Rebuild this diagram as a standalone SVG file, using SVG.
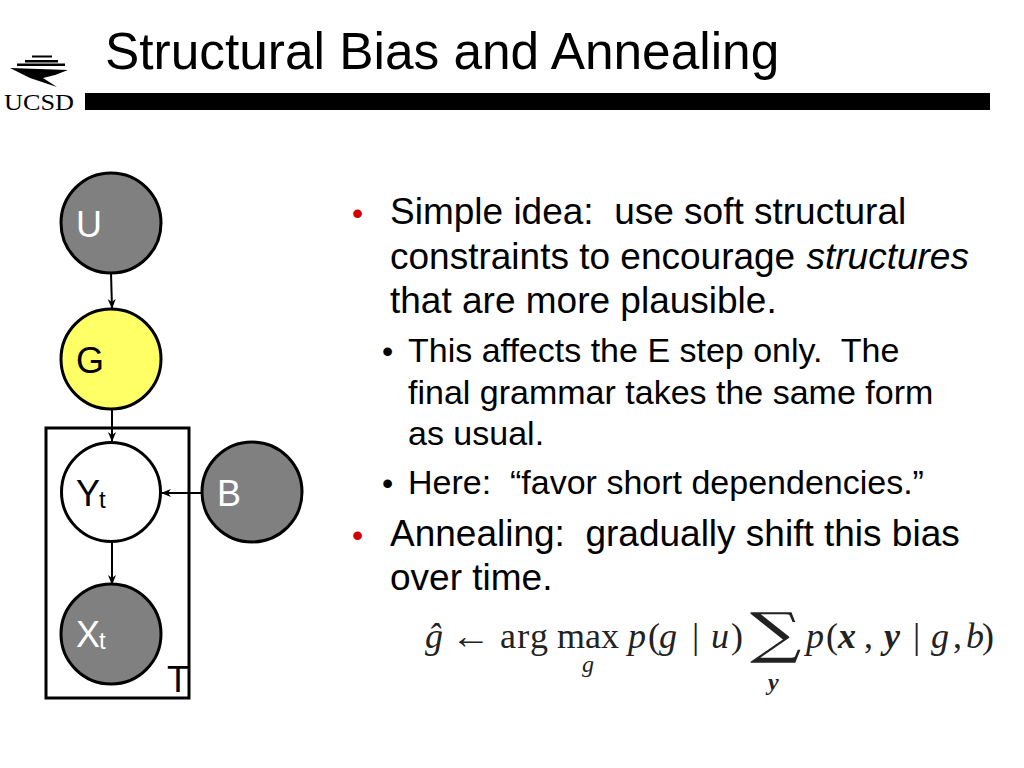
<svg xmlns="http://www.w3.org/2000/svg" width="1024" height="768" viewBox="0 0 1024 768">
<defs>
<style>
text{font-family:"Liberation Sans",Arial,sans-serif;white-space:pre}
.n{stroke:#000;stroke-width:3}
.d{fill:#808080}
.l{font-size:36px}
.lw{font-size:36px;fill:#fff}
.s{font-size:24px}
.b1{font-size:37px;fill:#000}
.b2{font-size:34px;fill:#000}
.bu{font-size:32px;fill:#000}
.red{fill:#d00000}
.m{font-family:"Liberation Serif",serif;font-size:36px;fill:#222}
.m2{font-family:"Liberation Serif",serif;font-size:24px;fill:#222}
.i{font-style:italic}
.bi{font-style:italic;font-weight:bold}
.c{stroke:#000;stroke-width:2;fill:none;marker-end:url(#a)}
</style>
<marker id="a" markerWidth="10" markerHeight="8" refX="9" refY="4" orient="auto" markerUnits="userSpaceOnUse"><path d="M0 0L10 4L0 8L3 4Z" fill="#000"/></marker>
</defs>
<rect width="1024" height="768" fill="#fff"/>
<g id="header">
<text x="105" y="69" font-size="51.4" fill="#000">Structural Bias and Annealing</text>
<rect x="85" y="93" width="905" height="17" fill="#000"/>
</g>
<g id="logo">
<path d="M32 55.500H52V57.500H32ZM25 60H58V62.500H25ZM17 63.500H65V66H17Z" fill="#000"/>
<path d="M10 68L68 70L55 75L43 78L57 87L30 78Z" fill="#000"/>
<text x="4" y="110" font-size="24" style="font-family:'Liberation Serif',serif" fill="#000" textLength="70" lengthAdjust="spacingAndGlyphs">UCSD</text>
</g>
<g id="plate">
<rect x="46" y="428" width="143" height="270" fill="none" stroke="#000" stroke-width="3"/>
<text x="167" y="692" class="l">T</text>
</g>
<g id="connectors">
<path class="c" d="M111 273L112 308"/>
<path class="c" d="M112 409V441"/>
<path class="c" d="M201 493H162"/>
<path class="c" d="M112 543V584"/>
</g>
<g id="node-U"><circle class="n d" cx="111" cy="223" r="50"/><text x="76" y="237" class="lw">U</text></g>
<g id="node-G"><circle class="n" cx="111" cy="359" r="50" fill="#ffff66"/><text x="76" y="373" class="l">G</text></g>
<g id="node-Y"><circle class="n" cx="111" cy="492" r="49.500" fill="#fff"/><text x="76" y="506" class="l">Y</text><text x="99" y="508" class="s">t</text></g>
<g id="node-B"><circle class="n d" cx="252" cy="492" r="50"/><text x="217" y="506" class="lw">B</text></g>
<g id="node-X"><circle class="n d" cx="111" cy="634" r="50"/><text x="76" y="647" class="lw">X</text><text x="99" y="649" class="s" fill="#fff">t</text></g>
<g id="text">
<text x="352" y="224" class="bu red">•</text>
<text x="390" y="224" class="b1">Simple idea:  use soft structural</text>
<text x="390" y="269" class="b1">constraints to encourage <tspan font-style="italic" dx="1">structures</tspan></text>
<text x="390" y="313" class="b1">that are more plausible.</text>
<text x="382" y="362" class="bu">•</text>
<text x="408" y="362" class="b2">This affects the E step only.  The</text>
<text x="408" y="404" class="b2">final grammar takes the same form</text>
<text x="408" y="445" class="b2">as usual.</text>
<text x="382" y="494" class="bu">•</text>
<text x="408" y="494" class="b2">Here:  “favor short dependencies.”</text>
<text x="352" y="546" class="bu red">•</text>
<text x="390" y="546" class="b1">Annealing:  gradually shift this bias</text>
<text x="390" y="590" class="b1">over time.</text>
</g>
<g id="equation">
<text x="425" y="648" class="m i">ĝ</text>
<text x="451" y="648" class="m" textLength="40" lengthAdjust="spacingAndGlyphs">←</text>
<text x="500" y="648" class="m" textLength="48">arg</text>
<text x="557" y="648" class="m" textLength="62">max</text>
<text x="582" y="672" class="m2 i">g</text>
<text x="628" y="648" class="m i">p</text>
<text x="648" y="648" class="m">(</text>
<text x="659" y="648" class="m i">g</text>
<text x="692" y="648" class="m">|</text>
<text x="711" y="648" class="m i">u</text>
<text x="731" y="648" class="m">)</text>
<text transform="translate(750 652) scale(1.31 1)" style="font-family:'DejaVu Serif',serif;font-size:55px" fill="#222">∑</text>
<text x="768" y="690" class="m2 bi">y</text>
<text x="806" y="648" class="m i">p</text>
<text x="826" y="648" class="m">(</text>
<text x="838" y="648" class="m bi">x</text>
<text x="864" y="648" class="m">,</text>
<text x="884" y="648" class="m bi">y</text>
<text x="913" y="648" class="m">|</text>
<text x="931" y="648" class="m i">g</text>
<text x="953" y="648" class="m">,</text>
<text x="966" y="648" class="m i">b</text>
<text x="982" y="648" class="m">)</text>
</g>
</svg>
